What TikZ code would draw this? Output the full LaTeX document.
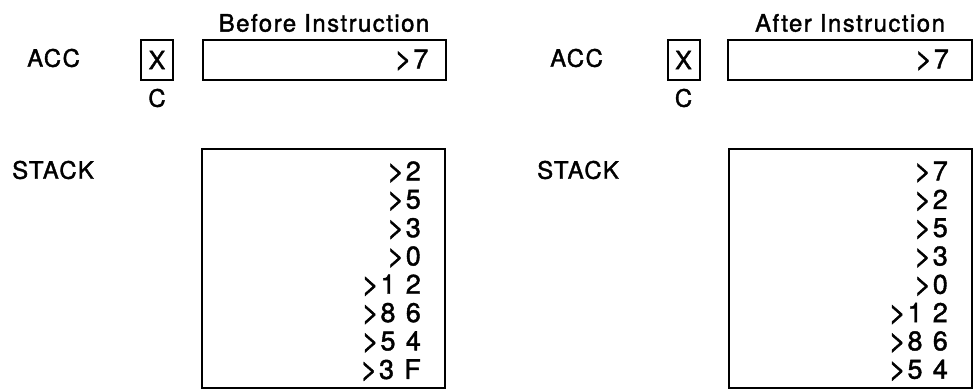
\documentclass[tikz,border=0pt]{standalone}
\usepackage{fontspec}
\usepackage{graphicx}
\setmainfont[LetterSpace=6,FakeBold=1.5]{TeX Gyre Heros}
\usetikzlibrary{positioning}

\newcommand*{\rowgap}{28.3}
\newcommand*{\dgap}{\hspace{0.38em}}
\newcommand*{\hx}{\scalebox{1.1}{>}\kern0.05em}

\begin{document}
\begin{tikzpicture}[x=1pt,y=-1pt,
	lbl/.style={font=\fontsize{24}{24}\selectfont, inner sep=0pt},
	val/.style={font=\fontsize{27}{27}\selectfont, inner sep=0pt},
	reg/.style={draw, line width=2pt, inner sep=0pt, minimum height=40pt},
	flag/.style={reg, minimum width=32pt, font=\fontsize{25}{25}\selectfont}]

	\useasboundingbox (0,0) rectangle (974,390);

	% before instruction
	\node[lbl] (titleB) at (324,23) {Before Instruction};
	\node[lbl, anchor=west] (accB) at (27,58) {ACC};
	\node[flag] (carryB) at (157,60) {X};
	\node[lbl] (cB) at (157,98) {C};
	\node[reg, minimum width=243pt] (regB) at (324,60) {};
	\node[val, left=18pt of regB.east, anchor=east] (valB) {\hx 7};

	\node[lbl, anchor=west] (stackB) at (12,170) {STACK};
	\node[reg, minimum width=243pt, minimum height=239pt] (stkB) at (323.5,268.5) {};
	\foreach \v [count=\i from 0] in {2,5,3,0,1\dgap 2,8\dgap 6,5\dgap 4,3\dgap F}
		\node[val, anchor=east] (sB\i) at (421,{172+\rowgap*\i}) {\hx\v};

	% after instruction
	\node[lbl] (titleA) at (850,23) {After Instruction};
	\node[lbl, anchor=west] (accA) at (550,58) {ACC};
	\node[flag] (carryA) at (683.5,60) {X};
	\node[lbl] (cA) at (683.5,98) {C};
	\node[reg, minimum width=244pt] (regA) at (850,60) {};
	\node[val, left=24pt of regA.east, anchor=east] (valA) {\hx 7};

	\node[lbl, anchor=west] (stackA) at (537,170) {STACK};
	\node[reg, minimum width=243pt, minimum height=239pt] (stkA) at (850.5,268.5) {};
	\foreach \v [count=\i from 0] in {7,2,5,3,0,1\dgap 2,8\dgap 6,5\dgap 4}
		\node[val, anchor=east] (sA\i) at (948,{172+\rowgap*\i}) {\hx\v};

\end{tikzpicture}
\end{document}
